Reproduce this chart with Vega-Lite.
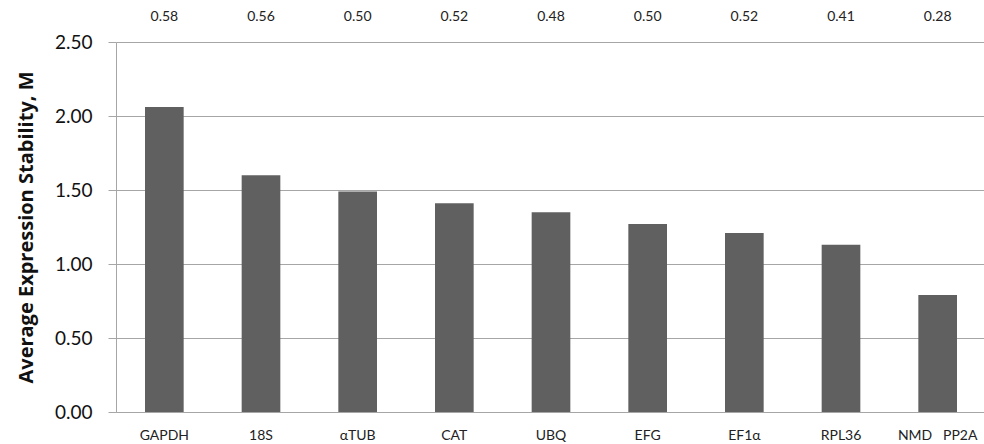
{
  "$schema": "https://vega.github.io/schema/vega-lite/v6.json",
  "autosize": {"type": "none"},
  "width": 870,
  "height": 370,
  "padding": {"left": 116, "top": 42, "right": 0, "bottom": 32},
  "background": "white",
  "config": {
    "view": {"stroke": null},
    "font": "Lato"
  },
  "data": {
    "values": [
      {"gene": "GAPDH", "M": 2.06, "pair": "0.58"},
      {"gene": "18S", "M": 1.60, "pair": "0.56"},
      {"gene": "αTUB", "M": 1.49, "pair": "0.50"},
      {"gene": "CAT", "M": 1.41, "pair": "0.52"},
      {"gene": "UBQ", "M": 1.35, "pair": "0.48"},
      {"gene": "EFG", "M": 1.27, "pair": "0.50"},
      {"gene": "EF1α", "M": 1.21, "pair": "0.52"},
      {"gene": "RPL36", "M": 1.13, "pair": "0.41"},
      {"gene": "NMD\u00a0\u00a0 PP2A", "M": 0.79, "pair": "0.28"}
    ]
  },
  "encoding": {
    "x": {
      "field": "gene",
      "type": "nominal",
      "sort": null,
      "scale": {"paddingInner": 0.6, "paddingOuter": 0.3},
      "axis": {
        "title": null,
        "labelAngle": 0,
        "labelFontSize": 14,
        "labelColor": "#222222",
        "labelPadding": 16,
        "ticks": false,
        "domainColor": "#a6a6a6",
        "domainWidth": 1,
        "grid": false
      }
    }
  },
  "layer": [
    {
      "mark": {"type": "bar", "color": "#606060"},
      "encoding": {
        "y": {
          "field": "M",
          "type": "quantitative",
          "scale": {"domain": [0, 2.5], "nice": false},
          "axis": {
            "title": "Average Expression Stability, M",
            "titleFont": "Open Sans",
            "titleFontWeight": "bold",
            "titleFontSize": 20,
            "titleColor": "#111111",
            "titlePadding": 18,
            "values": [0, 0.5, 1, 1.5, 2, 2.5],
            "format": ".2f",
            "labelFontSize": 19,
            "labelColor": "#111111",
            "labelPadding": 16,
            "tickSize": 8,
            "tickColor": "#a6a6a6",
            "domainColor": "#a6a6a6",
            "gridColor": "#a6a6a6",
            "gridWidth": 1
          }
        }
      }
    },
    {
      "mark": {"type": "text", "fontSize": 14, "color": "#222222", "dy": -25, "baseline": "middle"},
      "encoding": {
        "y": {"datum": 2.5, "type": "quantitative"},
        "text": {"field": "pair"}
      }
    }
  ]
}
